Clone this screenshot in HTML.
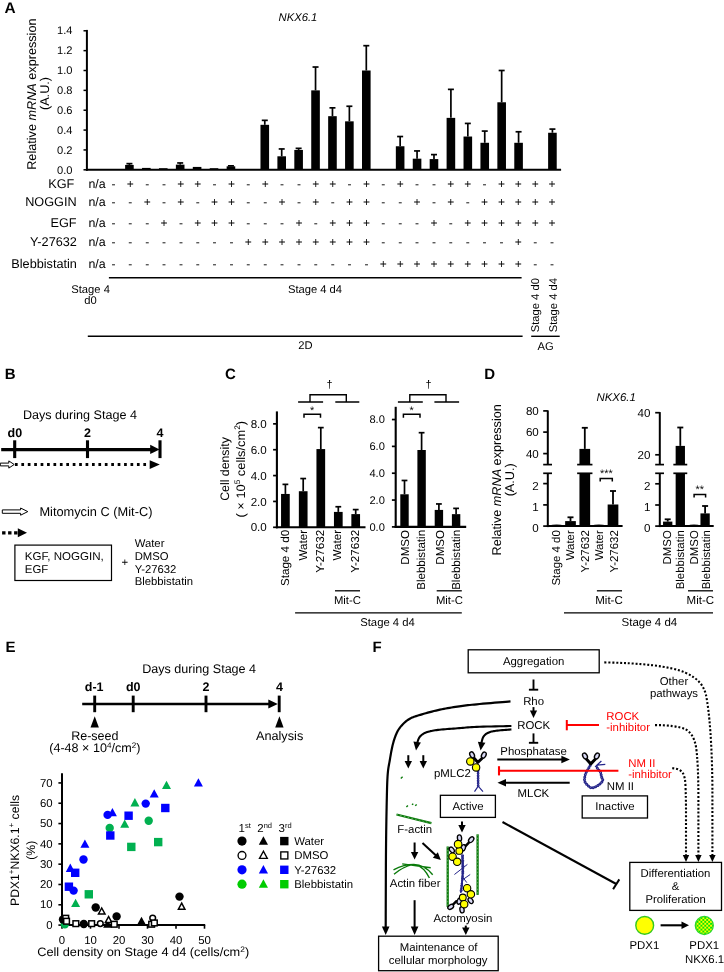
<!DOCTYPE html>
<html><head><meta charset="utf-8"><title>Figure</title>
<style>
html,body{margin:0;padding:0;background:#fff;}
body{width:724px;height:972px;overflow:hidden;font-family:"Liberation Sans",sans-serif;}
svg{display:block;font-family:"Liberation Sans",sans-serif;will-change:transform;opacity:0.9999;-webkit-font-smoothing:antialiased;text-rendering:geometricPrecision;}
</style></head><body>
<svg width="724" height="972" viewBox="0 0 724 972">
<rect width="724" height="972" fill="#fff"/>
<g id="panelA">
<text x="4.50" y="13.40" font-size="15.4" font-weight="bold">A</text>
<text x="278.50" y="21.20" font-size="11.2" textLength="38.80" lengthAdjust="spacingAndGlyphs" font-style="italic">NKX6.1</text>
<text transform="translate(36.1 169.8) rotate(-90)" font-size="12.7" textLength="151.3" lengthAdjust="spacingAndGlyphs">Relative <tspan font-style="italic">mRNA</tspan> expression</text>
<text transform="translate(48.5 93.5) rotate(-90)" font-size="12.7" text-anchor="middle">(A.U.)</text>
<line x1="86.90" y1="29.90" x2="86.90" y2="170.80" stroke="#000" stroke-width="2" />
<line x1="85.90" y1="169.80" x2="561.10" y2="169.80" stroke="#000" stroke-width="2" />
<line x1="83.50" y1="169.80" x2="86.90" y2="169.80" stroke="#000" stroke-width="1.5" />
<text x="72.50" y="173.50" font-size="11.1" text-anchor="end">0.0</text>
<line x1="83.50" y1="149.94" x2="86.90" y2="149.94" stroke="#000" stroke-width="1.5" />
<text x="72.50" y="153.64" font-size="11.1" text-anchor="end">0.2</text>
<line x1="83.50" y1="130.08" x2="86.90" y2="130.08" stroke="#000" stroke-width="1.5" />
<text x="72.50" y="133.78" font-size="11.1" text-anchor="end">0.4</text>
<line x1="83.50" y1="110.22" x2="86.90" y2="110.22" stroke="#000" stroke-width="1.5" />
<text x="72.50" y="113.92" font-size="11.1" text-anchor="end">0.6</text>
<line x1="83.50" y1="90.36" x2="86.90" y2="90.36" stroke="#000" stroke-width="1.5" />
<text x="72.50" y="94.06" font-size="11.1" text-anchor="end">0.8</text>
<line x1="83.50" y1="70.50" x2="86.90" y2="70.50" stroke="#000" stroke-width="1.5" />
<text x="72.50" y="74.20" font-size="11.1" text-anchor="end">1.0</text>
<line x1="83.50" y1="50.64" x2="86.90" y2="50.64" stroke="#000" stroke-width="1.5" />
<text x="72.50" y="54.34" font-size="11.1" text-anchor="end">1.2</text>
<line x1="83.50" y1="30.78" x2="86.90" y2="30.78" stroke="#000" stroke-width="1.5" />
<text x="72.50" y="34.48" font-size="11.1" text-anchor="end">1.4</text>
<rect x="125.12" y="164.93" width="8.60" height="4.87" fill="#000"/>
<line x1="129.42" y1="163.64" x2="129.42" y2="164.93" stroke="#000" stroke-width="1.7" />
<line x1="126.42" y1="163.64" x2="132.42" y2="163.64" stroke="#000" stroke-width="1.7" />
<rect x="142.04" y="167.91" width="8.60" height="1.89" fill="#000"/>
<rect x="158.96" y="168.21" width="8.60" height="1.59" fill="#000"/>
<rect x="175.88" y="164.64" width="8.60" height="5.16" fill="#000"/>
<line x1="180.18" y1="162.95" x2="180.18" y2="164.64" stroke="#000" stroke-width="1.7" />
<line x1="177.18" y1="162.95" x2="183.18" y2="162.95" stroke="#000" stroke-width="1.7" />
<rect x="192.80" y="166.92" width="8.60" height="2.88" fill="#000"/>
<rect x="209.72" y="168.21" width="8.60" height="1.59" fill="#000"/>
<rect x="226.64" y="166.32" width="8.60" height="3.48" fill="#000"/>
<line x1="230.94" y1="165.83" x2="230.94" y2="166.32" stroke="#000" stroke-width="1.7" />
<line x1="227.94" y1="165.83" x2="233.94" y2="165.83" stroke="#000" stroke-width="1.7" />
<rect x="260.48" y="124.82" width="8.60" height="44.98" fill="#000"/>
<line x1="264.78" y1="120.35" x2="264.78" y2="124.82" stroke="#000" stroke-width="1.7" />
<line x1="261.78" y1="120.35" x2="267.78" y2="120.35" stroke="#000" stroke-width="1.7" />
<rect x="277.40" y="156.30" width="8.60" height="13.50" fill="#000"/>
<line x1="281.70" y1="148.95" x2="281.70" y2="156.30" stroke="#000" stroke-width="1.7" />
<line x1="278.70" y1="148.95" x2="284.70" y2="148.95" stroke="#000" stroke-width="1.7" />
<rect x="294.32" y="149.94" width="8.60" height="19.86" fill="#000"/>
<line x1="298.62" y1="148.35" x2="298.62" y2="149.94" stroke="#000" stroke-width="1.7" />
<line x1="295.62" y1="148.35" x2="301.62" y2="148.35" stroke="#000" stroke-width="1.7" />
<rect x="311.24" y="90.36" width="8.60" height="79.44" fill="#000"/>
<line x1="315.54" y1="67.02" x2="315.54" y2="90.36" stroke="#000" stroke-width="1.7" />
<line x1="312.54" y1="67.02" x2="318.54" y2="67.02" stroke="#000" stroke-width="1.7" />
<rect x="328.16" y="116.18" width="8.60" height="53.62" fill="#000"/>
<line x1="332.46" y1="107.84" x2="332.46" y2="116.18" stroke="#000" stroke-width="1.7" />
<line x1="329.46" y1="107.84" x2="335.46" y2="107.84" stroke="#000" stroke-width="1.7" />
<rect x="345.08" y="121.34" width="8.60" height="48.46" fill="#000"/>
<line x1="349.38" y1="106.25" x2="349.38" y2="121.34" stroke="#000" stroke-width="1.7" />
<line x1="346.38" y1="106.25" x2="352.38" y2="106.25" stroke="#000" stroke-width="1.7" />
<rect x="362.00" y="70.50" width="8.60" height="99.30" fill="#000"/>
<line x1="366.30" y1="45.68" x2="366.30" y2="70.50" stroke="#000" stroke-width="1.7" />
<line x1="363.30" y1="45.68" x2="369.30" y2="45.68" stroke="#000" stroke-width="1.7" />
<rect x="395.84" y="146.27" width="8.60" height="23.53" fill="#000"/>
<line x1="400.14" y1="136.53" x2="400.14" y2="146.27" stroke="#000" stroke-width="1.7" />
<line x1="397.14" y1="136.53" x2="403.14" y2="136.53" stroke="#000" stroke-width="1.7" />
<rect x="412.76" y="158.68" width="8.60" height="11.12" fill="#000"/>
<line x1="417.06" y1="150.93" x2="417.06" y2="158.68" stroke="#000" stroke-width="1.7" />
<line x1="414.06" y1="150.93" x2="420.06" y2="150.93" stroke="#000" stroke-width="1.7" />
<rect x="429.68" y="159.08" width="8.60" height="10.72" fill="#000"/>
<line x1="433.98" y1="154.61" x2="433.98" y2="159.08" stroke="#000" stroke-width="1.7" />
<line x1="430.98" y1="154.61" x2="436.98" y2="154.61" stroke="#000" stroke-width="1.7" />
<rect x="446.60" y="117.87" width="8.60" height="51.93" fill="#000"/>
<line x1="450.90" y1="89.37" x2="450.90" y2="117.87" stroke="#000" stroke-width="1.7" />
<line x1="447.90" y1="89.37" x2="453.90" y2="89.37" stroke="#000" stroke-width="1.7" />
<rect x="463.52" y="136.53" width="8.60" height="33.27" fill="#000"/>
<line x1="467.82" y1="123.43" x2="467.82" y2="136.53" stroke="#000" stroke-width="1.7" />
<line x1="464.82" y1="123.43" x2="470.82" y2="123.43" stroke="#000" stroke-width="1.7" />
<rect x="480.44" y="142.79" width="8.60" height="27.01" fill="#000"/>
<line x1="484.74" y1="131.07" x2="484.74" y2="142.79" stroke="#000" stroke-width="1.7" />
<line x1="481.74" y1="131.07" x2="487.74" y2="131.07" stroke="#000" stroke-width="1.7" />
<rect x="497.36" y="102.28" width="8.60" height="67.52" fill="#000"/>
<line x1="501.66" y1="70.50" x2="501.66" y2="102.28" stroke="#000" stroke-width="1.7" />
<line x1="498.66" y1="70.50" x2="504.66" y2="70.50" stroke="#000" stroke-width="1.7" />
<rect x="514.28" y="142.79" width="8.60" height="27.01" fill="#000"/>
<line x1="518.58" y1="131.77" x2="518.58" y2="142.79" stroke="#000" stroke-width="1.7" />
<line x1="515.58" y1="131.77" x2="521.58" y2="131.77" stroke="#000" stroke-width="1.7" />
<rect x="548.12" y="132.76" width="8.60" height="37.04" fill="#000"/>
<line x1="552.42" y1="129.09" x2="552.42" y2="132.76" stroke="#000" stroke-width="1.7" />
<line x1="549.42" y1="129.09" x2="555.42" y2="129.09" stroke="#000" stroke-width="1.7" />
<text x="74.30" y="187.80" font-size="12.7" text-anchor="end">KGF</text>
<text x="97.00" y="187.80" font-size="12.4" text-anchor="middle">n/a</text>
<text x="113.40" y="187.80" font-size="12.0" text-anchor="middle">-</text>
<text x="130.27" y="187.80" font-size="12.0" text-anchor="middle">+</text>
<text x="147.14" y="187.80" font-size="12.0" text-anchor="middle">-</text>
<text x="164.01" y="187.80" font-size="12.0" text-anchor="middle">-</text>
<text x="180.88" y="187.80" font-size="12.0" text-anchor="middle">+</text>
<text x="197.75" y="187.80" font-size="12.0" text-anchor="middle">+</text>
<text x="214.62" y="187.80" font-size="12.0" text-anchor="middle">-</text>
<text x="231.49" y="187.80" font-size="12.0" text-anchor="middle">+</text>
<text x="248.36" y="187.80" font-size="12.0" text-anchor="middle">-</text>
<text x="265.23" y="187.80" font-size="12.0" text-anchor="middle">+</text>
<text x="282.10" y="187.80" font-size="12.0" text-anchor="middle">-</text>
<text x="298.97" y="187.80" font-size="12.0" text-anchor="middle">-</text>
<text x="315.84" y="187.80" font-size="12.0" text-anchor="middle">+</text>
<text x="332.71" y="187.80" font-size="12.0" text-anchor="middle">+</text>
<text x="349.58" y="187.80" font-size="12.0" text-anchor="middle">-</text>
<text x="366.45" y="187.80" font-size="12.0" text-anchor="middle">+</text>
<text x="383.32" y="187.80" font-size="12.0" text-anchor="middle">-</text>
<text x="400.19" y="187.80" font-size="12.0" text-anchor="middle">+</text>
<text x="417.06" y="187.80" font-size="12.0" text-anchor="middle">-</text>
<text x="433.93" y="187.80" font-size="12.0" text-anchor="middle">-</text>
<text x="450.80" y="187.80" font-size="12.0" text-anchor="middle">+</text>
<text x="467.67" y="187.80" font-size="12.0" text-anchor="middle">+</text>
<text x="484.54" y="187.80" font-size="12.0" text-anchor="middle">-</text>
<text x="501.41" y="187.80" font-size="12.0" text-anchor="middle">+</text>
<text x="518.28" y="187.80" font-size="12.0" text-anchor="middle">+</text>
<text x="535.15" y="187.80" font-size="12.0" text-anchor="middle">+</text>
<text x="552.02" y="187.80" font-size="12.0" text-anchor="middle">+</text>
<text x="76.60" y="205.60" font-size="12.7" text-anchor="end">NOGGIN</text>
<text x="97.00" y="205.60" font-size="12.4" text-anchor="middle">n/a</text>
<text x="113.40" y="205.60" font-size="12.0" text-anchor="middle">-</text>
<text x="130.27" y="205.60" font-size="12.0" text-anchor="middle">-</text>
<text x="147.14" y="205.60" font-size="12.0" text-anchor="middle">+</text>
<text x="164.01" y="205.60" font-size="12.0" text-anchor="middle">-</text>
<text x="180.88" y="205.60" font-size="12.0" text-anchor="middle">+</text>
<text x="197.75" y="205.60" font-size="12.0" text-anchor="middle">-</text>
<text x="214.62" y="205.60" font-size="12.0" text-anchor="middle">+</text>
<text x="231.49" y="205.60" font-size="12.0" text-anchor="middle">+</text>
<text x="248.36" y="205.60" font-size="12.0" text-anchor="middle">-</text>
<text x="265.23" y="205.60" font-size="12.0" text-anchor="middle">-</text>
<text x="282.10" y="205.60" font-size="12.0" text-anchor="middle">+</text>
<text x="298.97" y="205.60" font-size="12.0" text-anchor="middle">-</text>
<text x="315.84" y="205.60" font-size="12.0" text-anchor="middle">+</text>
<text x="332.71" y="205.60" font-size="12.0" text-anchor="middle">-</text>
<text x="349.58" y="205.60" font-size="12.0" text-anchor="middle">+</text>
<text x="366.45" y="205.60" font-size="12.0" text-anchor="middle">+</text>
<text x="383.32" y="205.60" font-size="12.0" text-anchor="middle">-</text>
<text x="400.19" y="205.60" font-size="12.0" text-anchor="middle">-</text>
<text x="417.06" y="205.60" font-size="12.0" text-anchor="middle">+</text>
<text x="433.93" y="205.60" font-size="12.0" text-anchor="middle">-</text>
<text x="450.80" y="205.60" font-size="12.0" text-anchor="middle">+</text>
<text x="467.67" y="205.60" font-size="12.0" text-anchor="middle">-</text>
<text x="484.54" y="205.60" font-size="12.0" text-anchor="middle">+</text>
<text x="501.41" y="205.60" font-size="12.0" text-anchor="middle">+</text>
<text x="518.28" y="205.60" font-size="12.0" text-anchor="middle">+</text>
<text x="535.15" y="205.60" font-size="12.0" text-anchor="middle">+</text>
<text x="552.02" y="205.60" font-size="12.0" text-anchor="middle">+</text>
<text x="76.60" y="227.30" font-size="12.7" text-anchor="end">EGF</text>
<text x="97.00" y="227.30" font-size="12.4" text-anchor="middle">n/a</text>
<text x="113.40" y="227.30" font-size="12.0" text-anchor="middle">-</text>
<text x="130.27" y="227.30" font-size="12.0" text-anchor="middle">-</text>
<text x="147.14" y="227.30" font-size="12.0" text-anchor="middle">-</text>
<text x="164.01" y="227.30" font-size="12.0" text-anchor="middle">+</text>
<text x="180.88" y="227.30" font-size="12.0" text-anchor="middle">-</text>
<text x="197.75" y="227.30" font-size="12.0" text-anchor="middle">+</text>
<text x="214.62" y="227.30" font-size="12.0" text-anchor="middle">+</text>
<text x="231.49" y="227.30" font-size="12.0" text-anchor="middle">+</text>
<text x="248.36" y="227.30" font-size="12.0" text-anchor="middle">-</text>
<text x="265.23" y="227.30" font-size="12.0" text-anchor="middle">-</text>
<text x="282.10" y="227.30" font-size="12.0" text-anchor="middle">-</text>
<text x="298.97" y="227.30" font-size="12.0" text-anchor="middle">+</text>
<text x="315.84" y="227.30" font-size="12.0" text-anchor="middle">-</text>
<text x="332.71" y="227.30" font-size="12.0" text-anchor="middle">+</text>
<text x="349.58" y="227.30" font-size="12.0" text-anchor="middle">+</text>
<text x="366.45" y="227.30" font-size="12.0" text-anchor="middle">+</text>
<text x="383.32" y="227.30" font-size="12.0" text-anchor="middle">-</text>
<text x="400.19" y="227.30" font-size="12.0" text-anchor="middle">-</text>
<text x="417.06" y="227.30" font-size="12.0" text-anchor="middle">-</text>
<text x="433.93" y="227.30" font-size="12.0" text-anchor="middle">+</text>
<text x="450.80" y="227.30" font-size="12.0" text-anchor="middle">-</text>
<text x="467.67" y="227.30" font-size="12.0" text-anchor="middle">+</text>
<text x="484.54" y="227.30" font-size="12.0" text-anchor="middle">+</text>
<text x="501.41" y="227.30" font-size="12.0" text-anchor="middle">+</text>
<text x="518.28" y="227.30" font-size="12.0" text-anchor="middle">+</text>
<text x="535.15" y="227.30" font-size="12.0" text-anchor="middle">+</text>
<text x="552.02" y="227.30" font-size="12.0" text-anchor="middle">+</text>
<text x="76.90" y="245.70" font-size="12.7" text-anchor="end">Y-27632</text>
<text x="97.00" y="245.70" font-size="12.4" text-anchor="middle">n/a</text>
<text x="113.40" y="245.70" font-size="12.0" text-anchor="middle">-</text>
<text x="130.27" y="245.70" font-size="12.0" text-anchor="middle">-</text>
<text x="147.14" y="245.70" font-size="12.0" text-anchor="middle">-</text>
<text x="164.01" y="245.70" font-size="12.0" text-anchor="middle">-</text>
<text x="180.88" y="245.70" font-size="12.0" text-anchor="middle">-</text>
<text x="197.75" y="245.70" font-size="12.0" text-anchor="middle">-</text>
<text x="214.62" y="245.70" font-size="12.0" text-anchor="middle">-</text>
<text x="231.49" y="245.70" font-size="12.0" text-anchor="middle">-</text>
<text x="248.36" y="245.70" font-size="12.0" text-anchor="middle">+</text>
<text x="265.23" y="245.70" font-size="12.0" text-anchor="middle">+</text>
<text x="282.10" y="245.70" font-size="12.0" text-anchor="middle">+</text>
<text x="298.97" y="245.70" font-size="12.0" text-anchor="middle">+</text>
<text x="315.84" y="245.70" font-size="12.0" text-anchor="middle">+</text>
<text x="332.71" y="245.70" font-size="12.0" text-anchor="middle">+</text>
<text x="349.58" y="245.70" font-size="12.0" text-anchor="middle">+</text>
<text x="366.45" y="245.70" font-size="12.0" text-anchor="middle">+</text>
<text x="383.32" y="245.70" font-size="12.0" text-anchor="middle">-</text>
<text x="400.19" y="245.70" font-size="12.0" text-anchor="middle">-</text>
<text x="417.06" y="245.70" font-size="12.0" text-anchor="middle">-</text>
<text x="433.93" y="245.70" font-size="12.0" text-anchor="middle">-</text>
<text x="450.80" y="245.70" font-size="12.0" text-anchor="middle">-</text>
<text x="467.67" y="245.70" font-size="12.0" text-anchor="middle">-</text>
<text x="484.54" y="245.70" font-size="12.0" text-anchor="middle">-</text>
<text x="501.41" y="245.70" font-size="12.0" text-anchor="middle">-</text>
<text x="518.28" y="245.70" font-size="12.0" text-anchor="middle">+</text>
<text x="535.15" y="245.70" font-size="12.0" text-anchor="middle">-</text>
<text x="552.02" y="245.70" font-size="12.0" text-anchor="middle">-</text>
<text x="76.90" y="267.50" font-size="12.7" text-anchor="end">Blebbistatin</text>
<text x="97.00" y="267.50" font-size="12.4" text-anchor="middle">n/a</text>
<text x="113.40" y="267.50" font-size="12.0" text-anchor="middle">-</text>
<text x="130.27" y="267.50" font-size="12.0" text-anchor="middle">-</text>
<text x="147.14" y="267.50" font-size="12.0" text-anchor="middle">-</text>
<text x="164.01" y="267.50" font-size="12.0" text-anchor="middle">-</text>
<text x="180.88" y="267.50" font-size="12.0" text-anchor="middle">-</text>
<text x="197.75" y="267.50" font-size="12.0" text-anchor="middle">-</text>
<text x="214.62" y="267.50" font-size="12.0" text-anchor="middle">-</text>
<text x="231.49" y="267.50" font-size="12.0" text-anchor="middle">-</text>
<text x="248.36" y="267.50" font-size="12.0" text-anchor="middle">-</text>
<text x="265.23" y="267.50" font-size="12.0" text-anchor="middle">-</text>
<text x="282.10" y="267.50" font-size="12.0" text-anchor="middle">-</text>
<text x="298.97" y="267.50" font-size="12.0" text-anchor="middle">-</text>
<text x="315.84" y="267.50" font-size="12.0" text-anchor="middle">-</text>
<text x="332.71" y="267.50" font-size="12.0" text-anchor="middle">-</text>
<text x="349.58" y="267.50" font-size="12.0" text-anchor="middle">-</text>
<text x="366.45" y="267.50" font-size="12.0" text-anchor="middle">-</text>
<text x="383.32" y="267.50" font-size="12.0" text-anchor="middle">+</text>
<text x="400.19" y="267.50" font-size="12.0" text-anchor="middle">+</text>
<text x="417.06" y="267.50" font-size="12.0" text-anchor="middle">+</text>
<text x="433.93" y="267.50" font-size="12.0" text-anchor="middle">+</text>
<text x="450.80" y="267.50" font-size="12.0" text-anchor="middle">+</text>
<text x="467.67" y="267.50" font-size="12.0" text-anchor="middle">+</text>
<text x="484.54" y="267.50" font-size="12.0" text-anchor="middle">+</text>
<text x="501.41" y="267.50" font-size="12.0" text-anchor="middle">+</text>
<text x="518.28" y="267.50" font-size="12.0" text-anchor="middle">+</text>
<text x="535.15" y="267.50" font-size="12.0" text-anchor="middle">-</text>
<text x="552.02" y="267.50" font-size="12.0" text-anchor="middle">-</text>
<line x1="108.90" y1="277.70" x2="521.60" y2="277.70" stroke="#000" stroke-width="1.4" />
<text x="90.60" y="292.60" font-size="11.2" text-anchor="middle">Stage 4</text>
<text x="90.60" y="304.20" font-size="11.2" text-anchor="middle">d0</text>
<text x="315.00" y="292.60" font-size="11.2" text-anchor="middle">Stage 4 d4</text>
<line x1="87.80" y1="336.30" x2="522.60" y2="336.30" stroke="#000" stroke-width="1.4" />
<line x1="531.20" y1="336.30" x2="559.70" y2="336.30" stroke="#000" stroke-width="1.4" />
<text x="538.60" y="332.20" font-size="11.2" textLength="54.10" lengthAdjust="spacingAndGlyphs" transform="rotate(-90 538.60 332.20)">Stage 4 d0</text>
<text x="556.80" y="332.20" font-size="11.2" textLength="54.10" lengthAdjust="spacingAndGlyphs" transform="rotate(-90 556.80 332.20)">Stage 4 d4</text>
<text x="305.50" y="349.30" font-size="11.2" text-anchor="middle">2D</text>
<text x="545.60" y="349.60" font-size="11.2" text-anchor="middle">AG</text>
</g>
<g id="panelB">
<text x="4.80" y="379.40" font-size="15.0" font-weight="bold">B</text>
<text x="22.90" y="419.40" font-size="12.5" textLength="114.10" lengthAdjust="spacingAndGlyphs">Days during Stage 4</text>
<text x="7.60" y="436.50" font-size="12.5" font-weight="bold">d0</text>
<text x="87.40" y="436.50" font-size="12.5" text-anchor="middle" font-weight="bold">2</text>
<text x="160.00" y="436.50" font-size="12.5" text-anchor="middle" font-weight="bold">4</text>
<line x1="1.20" y1="449.60" x2="152.00" y2="449.60" stroke="#000" stroke-width="3.2" />
<polygon points="159.60,449.40 150.20,454.10 150.20,444.70" fill="#000"/>
<line x1="14.70" y1="440.30" x2="14.70" y2="458.10" stroke="#000" stroke-width="3.1" />
<line x1="87.50" y1="440.30" x2="87.50" y2="458.10" stroke="#000" stroke-width="3.1" />
<line x1="160.00" y1="440.30" x2="160.00" y2="458.10" stroke="#000" stroke-width="3.1" />
<line x1="14.95" y1="464.60" x2="146.20" y2="464.60" stroke="#000" stroke-width="3.0" stroke-dasharray="2.7 3.72"/>
<polygon points="159.80,464.60 149.70,469.00 149.70,460.20" fill="#000"/>
<path d="M0.3 463.1 H8.8 V460.9 L14.2 464.5 L8.8 468.1 V465.9 H0.3 Z" fill="#fff" stroke="#000" stroke-width="1.0" />
<path d="M2.3 509.9 H20.6 V508.0 L27.8 511.6 L20.6 515.2 V513.3 H2.3 Z" fill="#fff" stroke="#000" stroke-width="1.0" />
<text x="39.40" y="516.20" font-size="12.8" textLength="113.00" lengthAdjust="spacingAndGlyphs">Mitomycin C (Mit-C)</text>
<line x1="2.10" y1="532.80" x2="18.50" y2="532.80" stroke="#000" stroke-width="3.3" stroke-dasharray="3.4 2.6"/>
<polygon points="27.00,532.80 17.80,537.30 17.80,528.30" fill="#000"/>
<rect x="14.90" y="545.10" width="96.60" height="35.40" fill="none" stroke="#000" stroke-width="1.2"/>
<text x="24.80" y="560.00" font-size="11.4" textLength="79.00" lengthAdjust="spacingAndGlyphs">KGF, NOGGIN,</text>
<text x="24.80" y="572.80" font-size="11.4">EGF</text>
<text x="124.90" y="566.00" font-size="11.4" text-anchor="middle">+</text>
<text x="134.70" y="546.60" font-size="11.3">Water</text>
<text x="134.70" y="559.80" font-size="11.3">DMSO</text>
<text x="134.70" y="572.70" font-size="11.3">Y-27632</text>
<text x="134.70" y="585.40" font-size="11.3" textLength="58.40" lengthAdjust="spacingAndGlyphs">Blebbistatin</text>
</g>
<g id="panelC">
<text x="225.10" y="379.40" font-size="15.0" font-weight="bold">C</text>
<text transform="translate(229.4 469) rotate(-90)" font-size="12.3" text-anchor="middle" textLength="63.6" lengthAdjust="spacingAndGlyphs">Cell density</text>
<text transform="translate(244.8 469.2) rotate(-90)" font-size="12.3" text-anchor="middle" textLength="96.5" lengthAdjust="spacingAndGlyphs">( × 10<tspan font-size="8" dy="-4.5">5</tspan><tspan dy="4.5"> cells/cm</tspan><tspan font-size="8" dy="-4.5">2</tspan><tspan dy="4.5">)</tspan></text>
<line x1="276.90" y1="411.40" x2="276.90" y2="528.30" stroke="#000" stroke-width="2.1" />
<line x1="275.90" y1="527.30" x2="365.50" y2="527.30" stroke="#000" stroke-width="2.1" />
<line x1="273.10" y1="527.30" x2="276.90" y2="527.30" stroke="#000" stroke-width="1.7" />
<text x="266.80" y="531.40" font-size="11.6" text-anchor="end">0.0</text>
<line x1="273.10" y1="501.44" x2="276.90" y2="501.44" stroke="#000" stroke-width="1.7" />
<text x="266.80" y="505.54" font-size="11.6" text-anchor="end">2.0</text>
<line x1="273.10" y1="475.58" x2="276.90" y2="475.58" stroke="#000" stroke-width="1.7" />
<text x="266.80" y="479.68" font-size="11.6" text-anchor="end">4.0</text>
<line x1="273.10" y1="449.72" x2="276.90" y2="449.72" stroke="#000" stroke-width="1.7" />
<text x="266.80" y="453.82" font-size="11.6" text-anchor="end">6.0</text>
<line x1="273.10" y1="423.86" x2="276.90" y2="423.86" stroke="#000" stroke-width="1.7" />
<text x="266.80" y="427.96" font-size="11.6" text-anchor="end">8.0</text>
<rect x="281.05" y="493.94" width="8.70" height="33.36" fill="#000"/>
<line x1="285.40" y1="484.37" x2="285.40" y2="493.94" stroke="#000" stroke-width="1.7" />
<line x1="282.50" y1="484.37" x2="288.30" y2="484.37" stroke="#000" stroke-width="1.7" />
<rect x="298.85" y="491.23" width="8.70" height="36.07" fill="#000"/>
<line x1="303.20" y1="478.55" x2="303.20" y2="491.23" stroke="#000" stroke-width="1.7" />
<line x1="300.30" y1="478.55" x2="306.10" y2="478.55" stroke="#000" stroke-width="1.7" />
<rect x="316.45" y="449.07" width="8.70" height="78.23" fill="#000"/>
<line x1="320.80" y1="427.61" x2="320.80" y2="449.07" stroke="#000" stroke-width="1.7" />
<line x1="317.90" y1="427.61" x2="323.70" y2="427.61" stroke="#000" stroke-width="1.7" />
<rect x="333.95" y="511.91" width="8.70" height="15.39" fill="#000"/>
<line x1="338.30" y1="506.74" x2="338.30" y2="511.91" stroke="#000" stroke-width="1.7" />
<line x1="335.40" y1="506.74" x2="341.20" y2="506.74" stroke="#000" stroke-width="1.7" />
<rect x="351.35" y="514.11" width="8.70" height="13.19" fill="#000"/>
<line x1="355.70" y1="509.59" x2="355.70" y2="514.11" stroke="#000" stroke-width="1.7" />
<line x1="352.80" y1="509.59" x2="358.60" y2="509.59" stroke="#000" stroke-width="1.7" />
<text x="289.40" y="529.90" font-size="11.6" text-anchor="end" transform="rotate(-90 289.40 529.90)">Stage 4 d0</text>
<text x="306.80" y="529.90" font-size="11.6" text-anchor="end" transform="rotate(-90 306.80 529.90)">Water</text>
<text x="324.40" y="529.90" font-size="11.6" text-anchor="end" transform="rotate(-90 324.40 529.90)">Y-27632</text>
<text x="341.30" y="529.90" font-size="11.6" text-anchor="end" transform="rotate(-90 341.30 529.90)">Water</text>
<text x="359.40" y="529.90" font-size="11.6" text-anchor="end" transform="rotate(-90 359.40 529.90)">Y-27632</text>
<line x1="395.70" y1="406.80" x2="395.70" y2="527.90" stroke="#000" stroke-width="2.1" />
<line x1="394.70" y1="526.90" x2="466.20" y2="526.90" stroke="#000" stroke-width="2.1" />
<line x1="391.90" y1="526.90" x2="395.70" y2="526.90" stroke="#000" stroke-width="1.7" />
<text x="384.80" y="530.82" font-size="11.1" text-anchor="end">0.0</text>
<line x1="391.90" y1="500.06" x2="395.70" y2="500.06" stroke="#000" stroke-width="1.7" />
<text x="384.80" y="503.98" font-size="11.1" text-anchor="end">2.0</text>
<line x1="391.90" y1="473.22" x2="395.70" y2="473.22" stroke="#000" stroke-width="1.7" />
<text x="384.80" y="477.14" font-size="11.1" text-anchor="end">4.0</text>
<line x1="391.90" y1="446.38" x2="395.70" y2="446.38" stroke="#000" stroke-width="1.7" />
<text x="384.80" y="450.30" font-size="11.1" text-anchor="end">6.0</text>
<line x1="391.90" y1="419.54" x2="395.70" y2="419.54" stroke="#000" stroke-width="1.7" />
<text x="384.80" y="423.46" font-size="11.1" text-anchor="end">8.0</text>
<rect x="400.30" y="494.29" width="8.40" height="32.61" fill="#000"/>
<line x1="404.50" y1="480.47" x2="404.50" y2="494.29" stroke="#000" stroke-width="1.7" />
<line x1="401.60" y1="480.47" x2="407.40" y2="480.47" stroke="#000" stroke-width="1.7" />
<rect x="417.40" y="450.00" width="8.40" height="76.90" fill="#000"/>
<line x1="421.60" y1="432.69" x2="421.60" y2="450.00" stroke="#000" stroke-width="1.7" />
<line x1="418.70" y1="432.69" x2="424.50" y2="432.69" stroke="#000" stroke-width="1.7" />
<rect x="434.70" y="509.92" width="8.40" height="16.98" fill="#000"/>
<line x1="438.90" y1="503.95" x2="438.90" y2="509.92" stroke="#000" stroke-width="1.7" />
<line x1="436.00" y1="503.95" x2="441.80" y2="503.95" stroke="#000" stroke-width="1.7" />
<rect x="451.90" y="514.15" width="8.40" height="12.75" fill="#000"/>
<line x1="456.10" y1="508.38" x2="456.10" y2="514.15" stroke="#000" stroke-width="1.7" />
<line x1="453.20" y1="508.38" x2="459.00" y2="508.38" stroke="#000" stroke-width="1.7" />
<text x="409.00" y="529.90" font-size="11.6" text-anchor="end" transform="rotate(-90 409.00 529.90)">DMSO</text>
<text x="425.30" y="529.90" font-size="11.6" text-anchor="end" transform="rotate(-90 425.30 529.90)">Blebbistatin</text>
<text x="443.70" y="529.90" font-size="11.6" text-anchor="end" transform="rotate(-90 443.70 529.90)">DMSO</text>
<text x="460.10" y="529.90" font-size="11.6" text-anchor="end" transform="rotate(-90 460.10 529.90)">Blebbistatin</text>
<path d="M298.1 402 H323.1 M310.0 402 V394.7 H346.3 V402 M335.3 402 H359.3" fill="none" stroke="#000" stroke-width="1.4" />
<path d="M397.9 402 H422.8 M409.8 402 V394.7 H446.0 V402 M434.4 402 H459.1" fill="none" stroke="#000" stroke-width="1.4" />
<text x="329.50" y="388.30" font-size="11" text-anchor="middle">†</text>
<text x="428.60" y="388.30" font-size="11" text-anchor="middle">†</text>
<path d="M304.0 417.8 V414.2 H320.5 V417.8" fill="none" stroke="#000" stroke-width="1.5" />
<path d="M403.4 417.8 V414.2 H420.0 V417.8" fill="none" stroke="#000" stroke-width="1.5" />
<text x="312.20" y="413.90" font-size="10.8" text-anchor="middle">*</text>
<text x="411.60" y="413.90" font-size="10.8" text-anchor="middle">*</text>
<line x1="335.00" y1="590.80" x2="360.00" y2="590.80" stroke="#000" stroke-width="1.3" />
<line x1="436.70" y1="590.80" x2="461.80" y2="590.80" stroke="#000" stroke-width="1.3" />
<text x="347.40" y="603.90" font-size="11.3" text-anchor="middle">Mit-C</text>
<text x="449.40" y="603.90" font-size="11.3" text-anchor="middle">Mit-C</text>
<line x1="295.10" y1="612.80" x2="461.80" y2="612.80" stroke="#000" stroke-width="1.3" />
<text x="387.50" y="625.60" font-size="11.3" text-anchor="middle">Stage 4 d4</text>
</g>
<g id="panelD">
<text x="484.30" y="378.80" font-size="15.0" font-weight="bold">D</text>
<text x="596.50" y="400.70" font-size="11.3" textLength="39.30" lengthAdjust="spacingAndGlyphs" font-style="italic">NKX6.1</text>
<text transform="translate(500.9 479.8) rotate(-90)" font-size="12.7" text-anchor="middle" textLength="151.3" lengthAdjust="spacingAndGlyphs">Relative <tspan font-style="italic">mRNA</tspan> expression</text>
<text transform="translate(513.6 479.8) rotate(-90)" font-size="12.7" text-anchor="middle">(A.U.)</text>
<line x1="547.80" y1="410.40" x2="547.80" y2="464.60" stroke="#000" stroke-width="2.0" />
<line x1="547.80" y1="473.30" x2="547.80" y2="527.10" stroke="#000" stroke-width="2.0" />
<line x1="546.80" y1="526.10" x2="622.60" y2="526.10" stroke="#000" stroke-width="2.0" />
<line x1="543.20" y1="464.60" x2="552.00" y2="464.60" stroke="#000" stroke-width="1.7" />
<line x1="543.20" y1="473.30" x2="552.00" y2="473.30" stroke="#000" stroke-width="1.7" />
<line x1="543.20" y1="410.90" x2="547.80" y2="410.90" stroke="#000" stroke-width="1.7" />
<text x="538.80" y="415.20" font-size="11.6" text-anchor="end">80</text>
<line x1="543.20" y1="432.10" x2="547.80" y2="432.10" stroke="#000" stroke-width="1.7" />
<text x="538.80" y="436.40" font-size="11.6" text-anchor="end">60</text>
<line x1="543.20" y1="453.60" x2="547.80" y2="453.60" stroke="#000" stroke-width="1.7" />
<text x="538.80" y="457.90" font-size="11.6" text-anchor="end">40</text>
<line x1="543.20" y1="483.60" x2="547.80" y2="483.60" stroke="#000" stroke-width="1.7" />
<text x="538.80" y="489.80" font-size="11.6" text-anchor="end">2</text>
<line x1="543.20" y1="504.90" x2="547.80" y2="504.90" stroke="#000" stroke-width="1.7" />
<text x="538.80" y="511.10" font-size="11.6" text-anchor="end">1</text>
<line x1="543.20" y1="526.10" x2="547.80" y2="526.10" stroke="#000" stroke-width="1.7" />
<text x="538.80" y="532.30" font-size="11.6" text-anchor="end">0</text>
<ellipse cx="556.6" cy="525.5" rx="5.75" ry="1.1" fill="#000"/>
<rect x="565.15" y="521.10" width="10.70" height="5.00" fill="#000"/>
<line x1="570.50" y1="517.30" x2="570.50" y2="521.10" stroke="#000" stroke-width="1.8" />
<line x1="567.50" y1="517.30" x2="573.50" y2="517.30" stroke="#000" stroke-width="1.8" />
<rect x="579.45" y="448.90" width="10.70" height="15.70" fill="#000"/>
<rect x="579.45" y="473.30" width="10.70" height="52.80" fill="#000"/>
<line x1="577.15" y1="464.60" x2="592.45" y2="464.60" stroke="#000" stroke-width="1.7" />
<line x1="577.15" y1="473.30" x2="592.45" y2="473.30" stroke="#000" stroke-width="1.7" />
<line x1="584.80" y1="427.80" x2="584.80" y2="448.90" stroke="#000" stroke-width="1.8" />
<line x1="581.80" y1="427.80" x2="587.80" y2="427.80" stroke="#000" stroke-width="1.8" />
<ellipse cx="598.9" cy="525.5" rx="5.75" ry="1.1" fill="#000"/>
<rect x="607.65" y="504.50" width="10.70" height="21.60" fill="#000"/>
<line x1="613.00" y1="491.00" x2="613.00" y2="504.50" stroke="#000" stroke-width="1.8" />
<line x1="610.00" y1="491.00" x2="616.00" y2="491.00" stroke="#000" stroke-width="1.8" />
<text x="560.50" y="530.20" font-size="11.45" text-anchor="end" transform="rotate(-90 560.50 530.20)">Stage 4 d0</text>
<text x="574.20" y="530.20" font-size="11.45" text-anchor="end" transform="rotate(-90 574.20 530.20)">Water</text>
<text x="588.80" y="530.20" font-size="11.45" text-anchor="end" transform="rotate(-90 588.80 530.20)">Y-27632</text>
<text x="603.00" y="530.20" font-size="11.45" text-anchor="end" transform="rotate(-90 603.00 530.20)">Water</text>
<text x="618.00" y="530.20" font-size="11.45" text-anchor="end" transform="rotate(-90 618.00 530.20)">Y-27632</text>
<line x1="659.80" y1="412.10" x2="659.80" y2="464.60" stroke="#000" stroke-width="2.0" />
<line x1="659.80" y1="473.30" x2="659.80" y2="527.10" stroke="#000" stroke-width="2.0" />
<line x1="658.80" y1="526.10" x2="713.70" y2="526.10" stroke="#000" stroke-width="2.0" />
<line x1="655.20" y1="464.60" x2="664.00" y2="464.60" stroke="#000" stroke-width="1.7" />
<line x1="655.20" y1="473.30" x2="664.00" y2="473.30" stroke="#000" stroke-width="1.7" />
<line x1="655.20" y1="412.70" x2="659.80" y2="412.70" stroke="#000" stroke-width="1.7" />
<text x="650.50" y="417.00" font-size="11.6" text-anchor="end">40</text>
<line x1="655.20" y1="454.80" x2="659.80" y2="454.80" stroke="#000" stroke-width="1.7" />
<text x="650.50" y="459.10" font-size="11.6" text-anchor="end">20</text>
<line x1="655.20" y1="483.80" x2="659.80" y2="483.80" stroke="#000" stroke-width="1.7" />
<text x="650.50" y="490.00" font-size="11.6" text-anchor="end">2</text>
<line x1="655.20" y1="505.00" x2="659.80" y2="505.00" stroke="#000" stroke-width="1.7" />
<text x="650.50" y="511.20" font-size="11.6" text-anchor="end">1</text>
<line x1="655.20" y1="526.10" x2="659.80" y2="526.10" stroke="#000" stroke-width="1.7" />
<text x="650.50" y="532.30" font-size="11.6" text-anchor="end">0</text>
<rect x="663.05" y="521.60" width="9.30" height="4.50" fill="#000"/>
<line x1="667.70" y1="519.30" x2="667.70" y2="521.60" stroke="#000" stroke-width="1.8" />
<line x1="664.70" y1="519.30" x2="670.70" y2="519.30" stroke="#000" stroke-width="1.8" />
<rect x="675.65" y="445.90" width="9.30" height="18.70" fill="#000"/>
<rect x="675.65" y="473.30" width="9.30" height="52.80" fill="#000"/>
<line x1="673.35" y1="464.60" x2="687.25" y2="464.60" stroke="#000" stroke-width="1.7" />
<line x1="673.35" y1="473.30" x2="687.25" y2="473.30" stroke="#000" stroke-width="1.7" />
<line x1="680.30" y1="427.50" x2="680.30" y2="445.90" stroke="#000" stroke-width="1.8" />
<line x1="677.30" y1="427.50" x2="683.30" y2="427.50" stroke="#000" stroke-width="1.8" />
<ellipse cx="694.0" cy="525.5" rx="5.050000000000001" ry="1.1" fill="#000"/>
<rect x="700.45" y="513.40" width="9.30" height="12.70" fill="#000"/>
<line x1="705.10" y1="506.00" x2="705.10" y2="513.40" stroke="#000" stroke-width="1.8" />
<line x1="702.10" y1="506.00" x2="708.10" y2="506.00" stroke="#000" stroke-width="1.8" />
<text x="670.80" y="530.20" font-size="11.45" text-anchor="end" transform="rotate(-90 670.80 530.20)">DMSO</text>
<text x="684.40" y="530.20" font-size="11.45" text-anchor="end" transform="rotate(-90 684.40 530.20)">Blebbistatin</text>
<text x="698.20" y="530.20" font-size="11.45" text-anchor="end" transform="rotate(-90 698.20 530.20)">DMSO</text>
<text x="710.30" y="530.20" font-size="11.45" text-anchor="end" transform="rotate(-90 710.30 530.20)">Blebbistatin</text>
<path d="M600.2 481.5 V478.4 H612.3 V481.5" fill="none" stroke="#000" stroke-width="1.5" />
<text x="606.30" y="477.40" font-size="10.8" text-anchor="middle">***</text>
<path d="M694.1 497.4 V494.5 H705.6 V497.4" fill="none" stroke="#000" stroke-width="1.5" />
<text x="699.80" y="493.40" font-size="10.8" text-anchor="middle">**</text>
<line x1="596.90" y1="590.80" x2="622.00" y2="590.80" stroke="#000" stroke-width="1.3" />
<line x1="688.00" y1="590.80" x2="713.00" y2="590.80" stroke="#000" stroke-width="1.3" />
<text x="609.00" y="603.90" font-size="11.5" text-anchor="middle">Mit-C</text>
<text x="700.30" y="603.90" font-size="11.5" text-anchor="middle">Mit-C</text>
<line x1="564.00" y1="612.80" x2="713.00" y2="612.80" stroke="#000" stroke-width="1.3" />
<text x="649.40" y="625.60" font-size="11.5" text-anchor="middle">Stage 4 d4</text>
</g>
<g id="panelE">
<text x="5.60" y="651.70" font-size="15.0" font-weight="bold">E</text>
<text x="142.20" y="672.80" font-size="12.5" textLength="113.90" lengthAdjust="spacingAndGlyphs">Days during Stage 4</text>
<text x="94.20" y="690.50" font-size="12.5" text-anchor="middle" font-weight="bold">d-1</text>
<text x="133.20" y="690.50" font-size="12.5" text-anchor="middle" font-weight="bold">d0</text>
<text x="205.90" y="690.50" font-size="12.5" text-anchor="middle" font-weight="bold">2</text>
<text x="279.40" y="690.50" font-size="12.5" text-anchor="middle" font-weight="bold">4</text>
<line x1="82.20" y1="704.00" x2="271.00" y2="704.00" stroke="#000" stroke-width="2.7" />
<polygon points="277.80,704.00 268.30,708.50 268.30,699.50" fill="#000"/>
<line x1="94.70" y1="695.60" x2="94.70" y2="712.20" stroke="#000" stroke-width="2.9" />
<line x1="133.20" y1="695.60" x2="133.20" y2="712.20" stroke="#000" stroke-width="2.9" />
<line x1="206.00" y1="695.60" x2="206.00" y2="712.20" stroke="#000" stroke-width="2.9" />
<line x1="279.20" y1="695.60" x2="279.20" y2="712.20" stroke="#000" stroke-width="2.9" />
<polygon points="94.7,716.3 90.5,727.4 98.9,727.4" fill="#000"/>
<polygon points="279.4,716.3 275.2,727.4 283.59999999999997,727.4" fill="#000"/>
<text x="94.80" y="739.60" font-size="12.5" text-anchor="middle" textLength="47.30" lengthAdjust="spacingAndGlyphs">Re-seed</text>
<text x="94.8" y="752.4" font-size="12.5" text-anchor="middle" textLength="91.2" lengthAdjust="spacingAndGlyphs">(4-48 × 10<tspan font-size="8" dy="-4.5">4</tspan><tspan dy="4.5">/cm</tspan><tspan font-size="8" dy="-4.5">2</tspan><tspan dy="4.5">)</tspan></text>
<text x="279.60" y="739.60" font-size="12.5" text-anchor="middle" textLength="47.30" lengthAdjust="spacingAndGlyphs">Analysis</text>
<line x1="62.00" y1="773.30" x2="62.00" y2="926.10" stroke="#000" stroke-width="2.0" />
<line x1="61.00" y1="925.10" x2="205.20" y2="925.10" stroke="#000" stroke-width="2.0" />
<line x1="58.40" y1="925.10" x2="62.00" y2="925.10" stroke="#000" stroke-width="1.6" />
<text x="52.60" y="928.80" font-size="11.4" text-anchor="end">0</text>
<line x1="58.40" y1="904.79" x2="62.00" y2="904.79" stroke="#000" stroke-width="1.6" />
<text x="52.60" y="908.49" font-size="11.4" text-anchor="end">10</text>
<line x1="58.40" y1="884.48" x2="62.00" y2="884.48" stroke="#000" stroke-width="1.6" />
<text x="52.60" y="888.18" font-size="11.4" text-anchor="end">20</text>
<line x1="58.40" y1="864.17" x2="62.00" y2="864.17" stroke="#000" stroke-width="1.6" />
<text x="52.60" y="867.87" font-size="11.4" text-anchor="end">30</text>
<line x1="58.40" y1="843.86" x2="62.00" y2="843.86" stroke="#000" stroke-width="1.6" />
<text x="52.60" y="847.56" font-size="11.4" text-anchor="end">40</text>
<line x1="58.40" y1="823.55" x2="62.00" y2="823.55" stroke="#000" stroke-width="1.6" />
<text x="52.60" y="827.25" font-size="11.4" text-anchor="end">50</text>
<line x1="58.40" y1="803.24" x2="62.00" y2="803.24" stroke="#000" stroke-width="1.6" />
<text x="52.60" y="806.94" font-size="11.4" text-anchor="end">60</text>
<line x1="58.40" y1="782.93" x2="62.00" y2="782.93" stroke="#000" stroke-width="1.6" />
<text x="52.60" y="786.63" font-size="11.4" text-anchor="end">70</text>
<line x1="62.00" y1="925.10" x2="62.00" y2="928.70" stroke="#000" stroke-width="1.6" />
<text x="62.00" y="943.50" font-size="11.4" text-anchor="middle">0</text>
<line x1="90.50" y1="925.10" x2="90.50" y2="928.70" stroke="#000" stroke-width="1.6" />
<text x="90.50" y="943.50" font-size="11.4" text-anchor="middle">10</text>
<line x1="119.00" y1="925.10" x2="119.00" y2="928.70" stroke="#000" stroke-width="1.6" />
<text x="119.00" y="943.50" font-size="11.4" text-anchor="middle">20</text>
<line x1="147.50" y1="925.10" x2="147.50" y2="928.70" stroke="#000" stroke-width="1.6" />
<text x="147.50" y="943.50" font-size="11.4" text-anchor="middle">30</text>
<line x1="176.00" y1="925.10" x2="176.00" y2="928.70" stroke="#000" stroke-width="1.6" />
<text x="176.00" y="943.50" font-size="11.4" text-anchor="middle">40</text>
<line x1="204.50" y1="925.10" x2="204.50" y2="928.70" stroke="#000" stroke-width="1.6" />
<text x="204.50" y="943.50" font-size="11.4" text-anchor="middle">50</text>
<text x="37.2" y="956.3" font-size="12.2" textLength="212" lengthAdjust="spacingAndGlyphs">Cell density on Stage 4 d4 (cells/cm<tspan font-size="8" dy="-4.5">2</tspan><tspan dy="4.5">)</tspan></text>
<text transform="translate(18.9 850.5) rotate(-90)" font-size="12.2" text-anchor="middle">PDX1<tspan font-size="8" dy="-4.5">+</tspan><tspan dy="4.5">NKX6.1</tspan><tspan font-size="8" dy="-4.5">+</tspan><tspan dy="4.5"> cells</tspan></text>
<text transform="translate(34.8 850.2) rotate(-90)" font-size="12.2" text-anchor="middle">(%)</text>
<circle cx="64.8" cy="924.4" r="4.20" fill="#00b050"/>
<circle cx="109.7" cy="828.0" r="4.20" fill="#00b050"/>
<circle cx="148.7" cy="820.8" r="4.20" fill="#00b050"/>
<polygon points="166.5,780.7 162.0,789.0 171.0,789.0" fill="#00b050" stroke-linejoin="miter"/>
<polygon points="134.9,798.1 130.4,806.4 139.4,806.4" fill="#00b050" stroke-linejoin="miter"/>
<polygon points="124.7,819.4 120.2,827.7 129.2,827.7" fill="#00b050" stroke-linejoin="miter"/>
<polygon points="75.6,898.7 71.1,907.0 80.1,907.0" fill="#00b050" stroke-linejoin="miter"/>
<rect x="154.0" y="837.9" width="8.40" height="8.40" fill="#00b050"/>
<rect x="127.1" y="842.7" width="8.40" height="8.40" fill="#00b050"/>
<rect x="84.6" y="890.1" width="8.40" height="8.40" fill="#00b050"/>
<circle cx="145.7" cy="803.6" r="4.20" fill="#0000ff"/>
<circle cx="107.6" cy="814.9" r="4.20" fill="#0000ff"/>
<circle cx="83.5" cy="859.5" r="4.20" fill="#0000ff"/>
<circle cx="73.6" cy="890.6" r="4.20" fill="#0000ff"/>
<polygon points="198.4,778.2 193.9,786.5 202.9,786.5" fill="#0000ff" stroke-linejoin="miter"/>
<polygon points="154.2,789.2 149.7,797.5 158.7,797.5" fill="#0000ff" stroke-linejoin="miter"/>
<polygon points="112.4,807.9 107.9,816.2 116.9,816.2" fill="#0000ff" stroke-linejoin="miter"/>
<polygon points="84.9,839.4 80.4,847.7 89.4,847.7" fill="#0000ff" stroke-linejoin="miter"/>
<polygon points="70.3,863.6 65.8,871.9 74.8,871.9" fill="#0000ff" stroke-linejoin="miter"/>
<rect x="161.1" y="803.8" width="8.40" height="8.40" fill="#0000ff"/>
<rect x="124.4" y="811.5" width="8.40" height="8.40" fill="#0000ff"/>
<rect x="106.1" y="831.3" width="8.40" height="8.40" fill="#0000ff"/>
<rect x="71.0" y="868.6" width="8.40" height="8.40" fill="#0000ff"/>
<rect x="64.7" y="882.5" width="8.40" height="8.40" fill="#0000ff"/>
<circle cx="179.5" cy="896.6" r="4.20" fill="#000"/>
<circle cx="95.7" cy="907.5" r="4.20" fill="#000"/>
<circle cx="116.6" cy="916.4" r="4.20" fill="#000"/>
<circle cx="63.0" cy="919.5" r="4.20" fill="#000"/>
<circle cx="83.8" cy="924.0" r="4.20" fill="#000"/>
<polygon points="141.5,916.7 137.0,925.0 146.0,925.0" fill="#000" stroke-linejoin="miter"/>
<polygon points="107.6,919.5 103.1,927.8 112.1,927.8" fill="#000" stroke-linejoin="miter"/>
<polygon points="181.7,903.1 178.4,909.2 184.9,909.2" fill="#fff" stroke="#000" stroke-width="1.5" stroke-linejoin="miter"/>
<polygon points="101.7,908.0 98.5,914.0 105.0,914.0" fill="#fff" stroke="#000" stroke-width="1.5" stroke-linejoin="miter"/>
<polygon points="108.6,916.5 105.3,922.6 111.8,922.6" fill="#fff" stroke="#000" stroke-width="1.5" stroke-linejoin="miter"/>
<circle cx="152.7" cy="918.0" r="2.85" fill="#fff" stroke="#000" stroke-width="1.5"/>
<circle cx="100.3" cy="923.6" r="2.85" fill="#fff" stroke="#000" stroke-width="1.5"/>
<rect x="148.8" y="921.4" width="5.70" height="5.70" fill="#fff" stroke="#000" stroke-width="1.5"/>
<rect x="151.5" y="920.1" width="5.70" height="5.70" fill="#fff" stroke="#000" stroke-width="1.5"/>
<rect x="111.4" y="921.4" width="5.70" height="5.70" fill="#fff" stroke="#000" stroke-width="1.5"/>
<rect x="88.8" y="920.8" width="5.70" height="5.70" fill="#fff" stroke="#000" stroke-width="1.5"/>
<rect x="73.0" y="920.8" width="5.70" height="5.70" fill="#fff" stroke="#000" stroke-width="1.5"/>
<rect x="62.9" y="915.4" width="5.70" height="5.70" fill="#fff" stroke="#000" stroke-width="1.5"/>
<rect x="63.7" y="918.4" width="5.70" height="5.70" fill="#fff" stroke="#000" stroke-width="1.5"/>
<text x="238.6" y="832.4" font-size="11.5">1<tspan font-size="7.5" dy="-4">st</tspan></text>
<text x="257.3" y="832.4" font-size="11.5">2<tspan font-size="7.5" dy="-4">nd</tspan></text>
<text x="278.6" y="832.4" font-size="11.5">3<tspan font-size="7.5" dy="-4">rd</tspan></text>
<circle cx="242.0" cy="841.1" r="4.60" fill="#000"/>
<polygon points="263.4,836.2 258.8,844.7 268.0,844.7" fill="#000" stroke-linejoin="miter"/>
<rect x="280.1" y="836.9" width="8.40" height="8.40" fill="#000"/>
<text x="294.20" y="844.80" font-size="11.4">Water</text>
<circle cx="242.0" cy="855.4" r="3.92" fill="#fff" stroke="#000" stroke-width="1.35"/>
<polygon points="263.4,851.2 259.5,858.4 267.3,858.4" fill="#fff" stroke="#000" stroke-width="1.35" stroke-linejoin="miter"/>
<rect x="280.8" y="851.9" width="7.05" height="7.05" fill="#fff" stroke="#000" stroke-width="1.35"/>
<text x="294.20" y="859.10" font-size="11.4">DMSO</text>
<circle cx="242.0" cy="869.8" r="4.60" fill="#0000ff"/>
<polygon points="263.4,864.9 258.8,873.4 268.0,873.4" fill="#0000ff" stroke-linejoin="miter"/>
<rect x="280.1" y="865.6" width="8.40" height="8.40" fill="#0000ff"/>
<text x="294.20" y="873.50" font-size="11.4">Y-27632</text>
<circle cx="242.0" cy="884.2" r="4.60" fill="#00cc00"/>
<polygon points="263.4,879.3 258.8,887.8 268.0,887.8" fill="#00cc00" stroke-linejoin="miter"/>
<rect x="280.1" y="880.0" width="8.40" height="8.40" fill="#00cc00"/>
<text x="294.20" y="887.90" font-size="11.4">Blebbistatin</text>
</g>
<g id="panelF">
<text x="372.40" y="651.70" font-size="15.0" font-weight="bold">F</text>
<path d="M510.50 701.40 L508.42 701.58 L505.67 701.80 L502.39 702.08 L498.72 702.38 L494.81 702.71 L490.80 703.04 L486.84 703.38 L483.07 703.71 L479.64 704.02 L476.70 704.30 L474.18 704.55 L471.91 704.78 L469.85 705.00 L467.94 705.21 L466.15 705.41 L464.43 705.62 L462.74 705.84 L461.03 706.07 L459.27 706.32 L457.40 706.60 L455.46 706.89 L453.52 707.20 L451.58 707.51 L449.64 707.83 L447.70 708.17 L445.76 708.52 L443.82 708.89 L441.88 709.27 L439.94 709.68 L438.00 710.10 L436.02 710.56 L433.98 711.05 L431.90 711.58 L429.81 712.12 L427.74 712.67 L425.72 713.23 L423.78 713.78 L421.94 714.32 L420.24 714.83 L418.70 715.30 L417.33 715.73 L416.11 716.12 L415.02 716.48 L414.03 716.82 L413.12 717.16 L412.28 717.50 L411.46 717.87 L410.66 718.26 L409.85 718.70 L409.00 719.20 L408.14 719.75 L407.29 720.34 L406.45 720.97 L405.64 721.63 L404.85 722.31 L404.08 723.01 L403.34 723.72 L402.63 724.44 L401.95 725.17 L401.30 725.90 L400.69 726.62 L400.12 727.33 L399.59 728.04 L399.09 728.76 L398.61 729.49 L398.15 730.25 L397.70 731.05 L397.26 731.88 L396.83 732.76 L396.40 733.70 L395.97 734.69 L395.56 735.72 L395.15 736.78 L394.76 737.88 L394.37 739.03 L394.00 740.20 L393.64 741.42 L393.28 742.68 L392.94 743.97 L392.60 745.30 L392.27 746.69 L391.95 748.17 L391.64 749.70 L391.33 751.27 L391.04 752.88 L390.75 754.49 L390.48 756.09 L390.21 757.67 L389.95 759.22 L389.70 760.70 L389.46 762.08 L389.22 763.36 L389.00 764.57 L388.78 765.75 L388.57 766.93 L388.38 768.16 L388.19 769.48 L388.02 770.91 L387.85 772.51 L387.70 774.30 L387.56 776.19 L387.45 778.08 L387.35 780.01 L387.26 782.03 L387.18 784.20 L387.10 786.55 L387.03 789.14 L386.96 792.02 L386.88 795.22 L386.80 798.80 L386.71 802.72 L386.63 806.92 L386.54 811.38 L386.45 816.12 L386.36 821.12 L386.28 826.38 L386.20 831.90 L386.13 837.68 L386.06 843.71 L386.00 850.00 L385.95 857.00 L385.90 864.98 L385.86 873.63 L385.83 882.64 L385.80 891.70 L385.77 900.51 L385.75 908.75 L385.73 916.12 L385.72 922.30 L385.70 927.00" fill="none" stroke="#000" stroke-width="2.2" stroke-linejoin="round" />
<polygon points="385.70,935.00 381.90,926.50 389.50,926.50" fill="#000"/>
<path d="M511.40 726.00 L509.27 726.05 L506.43 726.11 L503.06 726.19 L499.28 726.27 L495.26 726.36 L491.14 726.46 L487.07 726.56 L483.21 726.67 L479.70 726.79 L476.70 726.90 L474.15 727.02 L471.86 727.14 L469.78 727.28 L467.88 727.41 L466.09 727.56 L464.39 727.70 L462.71 727.85 L461.02 728.00 L459.26 728.15 L457.40 728.30 L455.43 728.45 L453.40 728.59 L451.34 728.74 L449.27 728.89 L447.22 729.04 L445.20 729.19 L443.25 729.35 L441.38 729.53 L439.62 729.71 L438.00 729.90 L436.50 730.10 L435.10 730.30 L433.79 730.50 L432.56 730.70 L431.40 730.92 L430.31 731.15 L429.27 731.40 L428.28 731.67 L427.32 731.97 L426.40 732.30 L425.52 732.65 L424.70 733.03 L423.93 733.42 L423.22 733.84 L422.55 734.27 L421.93 734.73 L421.34 735.21 L420.80 735.72 L420.28 736.25 L419.80 736.80 L419.35 737.42 L418.95 738.12 L418.59 738.89 L418.27 739.68 L417.99 740.48 L417.74 741.26 L417.51 741.99 L417.32 742.64 L417.15 743.19 L417.00 743.60" fill="none" stroke="#000" stroke-width="2.1" stroke-linejoin="round" />
<polygon points="416.00,750.40 413.42,741.45 420.95,742.51" fill="#000"/>
<path d="M511.40 729.40 L510.45 729.48 L509.18 729.58 L507.67 729.70 L505.98 729.84 L504.18 729.98 L502.34 730.14 L500.54 730.30 L498.83 730.47 L497.30 730.63 L496.00 730.80 L494.91 730.96 L493.92 731.12 L493.03 731.27 L492.23 731.43 L491.49 731.59 L490.80 731.77 L490.15 731.97 L489.53 732.18 L488.92 732.43 L488.30 732.70 L487.69 733.00 L487.11 733.30 L486.57 733.63 L486.05 733.97 L485.56 734.33 L485.10 734.72 L484.66 735.14 L484.25 735.59 L483.87 736.08 L483.50 736.60 L483.16 737.21 L482.84 737.91 L482.55 738.69 L482.29 739.51 L482.05 740.34 L481.83 741.16 L481.64 741.92 L481.47 742.60 L481.33 743.17 L481.20 743.60" fill="none" stroke="#000" stroke-width="2.1" stroke-linejoin="round" />
<polygon points="480.60,750.60 477.86,741.70 485.41,742.63" fill="#000"/>
<rect x="468.20" y="649.80" width="131.00" height="23.00" fill="#fff" stroke="#000" stroke-width="1.3"/>
<text x="533.60" y="664.90" font-size="11.4" text-anchor="middle">Aggregation</text>
<line x1="533.50" y1="679.50" x2="533.50" y2="689.70" stroke="#000" stroke-width="1.9" />
<line x1="528.90" y1="689.70" x2="538.20" y2="689.70" stroke="#000" stroke-width="1.9" />
<text x="533.60" y="705.00" font-size="11.4" text-anchor="middle">Rho</text>
<line x1="533.50" y1="707.10" x2="533.50" y2="712.00" stroke="#000" stroke-width="1.9" />
<polygon points="533.50,717.90 529.90,710.40 537.10,710.40" fill="#000"/>
<text x="533.70" y="729.00" font-size="11.4" text-anchor="middle">ROCK</text>
<line x1="533.50" y1="733.40" x2="533.50" y2="742.80" stroke="#000" stroke-width="1.9" />
<line x1="528.90" y1="742.80" x2="538.20" y2="742.80" stroke="#000" stroke-width="1.9" />
<text x="500.30" y="755.00" font-size="11.4">Phosphatase</text>
<line x1="408.30" y1="755.20" x2="408.30" y2="762.50" stroke="#000" stroke-width="2.0" />
<polygon points="408.30,768.50 404.60,761.00 412.00,761.00" fill="#000"/>
<line x1="423.30" y1="755.20" x2="423.30" y2="762.50" stroke="#000" stroke-width="2.0" />
<polygon points="423.30,768.50 419.60,761.00 427.00,761.00" fill="#000"/>
<text x="434.00" y="777.30" font-size="11.4">pMLC2</text>
<line x1="497.30" y1="759.50" x2="563.00" y2="759.50" stroke="#000" stroke-width="2.0" />
<polygon points="569.90,759.50 561.40,763.30 561.40,755.70" fill="#000"/>
<line x1="505.00" y1="782.80" x2="569.70" y2="782.80" stroke="#000" stroke-width="2.0" />
<polygon points="497.50,782.80 506.00,779.00 506.00,786.60" fill="#000"/>
<text x="533.40" y="796.60" font-size="11.4" text-anchor="middle">MLCK</text>
<path d="M478.10 769.50 L477.71 769.91 L477.37 770.42 L477.34 771.02 L477.80 771.70 L478.51 772.43 L478.89 773.21 L478.55 774.02 L477.76 774.84 L477.30 775.67 L477.61 776.48 L478.35 777.26 L478.86 778.00 L478.76 778.74 L478.08 779.53 L477.42 780.35 L477.44 781.19 L478.15 782.01 L478.84 782.82 L478.87 783.61 L478.30 784.36 L477.67 785.06 L477.39 785.67 L477.51 786.19 L477.82 786.60" fill="none" stroke="#25258a" stroke-width="1.2" stroke-linejoin="round"/>
<path d="M478.10 769.50 L478.49 769.91 L478.83 770.42 L478.85 771.03 L478.39 771.70 L477.68 772.43 L477.29 773.21 L477.64 774.02 L478.43 774.84 L478.89 775.67 L478.58 776.48 L477.84 777.26 L477.34 778.00 L477.45 778.75 L478.14 779.53 L478.82 780.34 L478.82 781.17 L478.13 782.01 L477.46 782.84 L477.45 783.63 L478.04 784.37 L478.69 785.05 L478.98 785.65 L478.88 786.18 L478.58 786.60" fill="none" stroke="#25258a" stroke-width="1.2" stroke-linejoin="round"/>
<path d="M474.5 791.6 L478.2 786.2 L483.0 791.6" fill="none" stroke="#25258a" stroke-width="1.2" />
<path d="M474.2 758.2 L477.8 762.4 L481.9 758.5" fill="none" stroke="#000" stroke-width="2.9" stroke-linecap="round" stroke-linejoin="round"/>
<ellipse cx="472.1" cy="754.9" rx="2.1" ry="3.2" transform="rotate(-28 472.1 754.9)" fill="#d8d8f4" stroke="#000" stroke-width="1.35"/>
<ellipse cx="483.8" cy="755.1" rx="2.1" ry="3.2" transform="rotate(28 483.8 755.1)" fill="#d8d8f4" stroke="#000" stroke-width="1.35"/>
<circle cx="470.3" cy="761.4" r="3.7" fill="#ffff00" stroke="#000" stroke-width="1.1"/>
<circle cx="476.1" cy="767.4" r="3.7" fill="#ffff00" stroke="#000" stroke-width="1.1"/>
<path d="M590.80 764.30 L590.45 764.40 L590.04 764.54 L589.65 764.76 L589.39 765.10 L589.32 765.58 L589.43 766.21 L589.63 766.90 L589.76 767.56 L589.66 768.10 L589.28 768.48 L588.70 768.73 L588.05 768.91 L587.47 769.10 L587.03 769.36 L586.80 769.75 L586.78 770.28 L586.89 770.91 L587.04 771.55 L587.12 772.13 L587.02 772.59 L586.69 772.93 L586.15 773.19 L585.51 773.46 L584.91 773.81 L584.54 774.28 L584.51 774.88 L584.82 775.57 L585.28 776.30 L585.58 776.97 L585.48 777.56 L584.98 778.09 L584.32 778.63 L583.81 779.20 L583.66 779.80 L583.89 780.37 L584.38 780.84 L584.95 781.18 L585.46 781.45 L585.80 781.73 L585.94 782.11 L585.93 782.61 L585.84 783.21 L585.77 783.86 L585.83 784.43 L586.06 784.86 L586.46 785.11 L587.00 785.20 L587.60 785.20 L588.20 785.21 L588.72 785.29 L589.11 785.50 L589.34 785.86 L589.44 786.38 L589.51 786.97 L589.63 787.57 L589.87 788.07 L590.26 788.40 L590.76 788.49 L591.30 788.34 L591.80 787.99 L592.22 787.54 L592.60 787.13 L593.00 786.91 L593.52 786.96 L594.17 787.24 L594.90 787.56 L595.62 787.70 L596.18 787.47 L596.56 786.88 L596.80 786.09 L597.01 785.37 L597.33 784.89 L597.85 784.70 L598.60 784.75 L599.46 784.86 L600.23 784.78 L600.71 784.33 L600.88 783.56 L600.88 782.69 L600.93 781.96 L601.19 781.51 L601.67 781.27 L602.28 781.12 L602.87 780.90 L603.32 780.54 L603.55 780.05 L603.54 779.55 L603.31 779.12 L602.90 778.81 L602.38 778.58 L601.86 778.41 L601.39 778.20 L601.06 777.91 L600.90 777.52 L600.91 777.06 L601.08 776.58 L601.35 776.15 L601.63 775.76 L601.86 775.40 L601.99 775.05 L601.99 774.72 L601.85 774.39 L601.59 774.07 L601.23 773.77 L600.82 773.52 L600.42 773.29 L600.08 773.09 L599.84 772.87 L599.72 772.58 L599.71 772.17 L599.77 771.64 L599.85 771.04 L599.87 770.45 L599.76 769.96 L599.48 769.61 L599.03 769.43 L598.49 769.35 L597.91 769.30 L597.39 769.20 L596.97 769.02 L596.69 768.75 L596.55 768.41 L596.54 768.01 L596.63 767.58 L596.77 767.15 L596.92 766.74 L597.04 766.37 L597.10 766.05 L597.09 765.79 L597.02 765.57 L596.92 765.40 L596.80 765.27" fill="none" stroke="#25258a" stroke-width="1.3" stroke-linejoin="round"/>
<path d="M590.80 764.30 L590.90 764.65 L591.00 765.07 L591.02 765.52 L590.87 765.92 L590.50 766.24 L589.91 766.47 L589.21 766.67 L588.58 766.91 L588.17 767.28 L588.05 767.81 L588.16 768.44 L588.35 769.09 L588.48 769.70 L588.44 770.23 L588.17 770.62 L587.70 770.87 L587.09 771.03 L586.44 771.19 L585.88 771.42 L585.52 771.79 L585.41 772.31 L585.54 772.93 L585.82 773.58 L586.09 774.19 L586.16 774.74 L585.89 775.24 L585.29 775.69 L584.57 776.15 L584.02 776.68 L583.91 777.31 L584.23 778.00 L584.77 778.66 L585.21 779.25 L585.35 779.77 L585.17 780.25 L584.82 780.76 L584.47 781.33 L584.26 781.93 L584.30 782.48 L584.59 782.91 L585.10 783.17 L585.73 783.30 L586.36 783.36 L586.90 783.46 L587.29 783.69 L587.51 784.07 L587.59 784.60 L587.60 785.20 L587.61 785.80 L587.70 786.33 L587.94 786.73 L588.35 786.96 L588.90 787.02 L589.52 786.97 L590.09 786.86 L590.57 786.79 L590.93 786.84 L591.20 787.03 L591.47 787.37 L591.80 787.81 L592.27 788.24 L592.82 788.54 L593.40 788.56 L593.90 788.23 L594.30 787.61 L594.62 786.88 L594.97 786.28 L595.46 786.01 L596.12 786.06 L596.90 786.28 L597.66 786.42 L598.27 786.31 L598.67 785.87 L598.88 785.13 L598.99 784.27 L599.20 783.56 L599.67 783.17 L600.42 783.09 L601.29 783.09 L602.05 782.95 L602.51 782.54 L602.65 781.93 L602.55 781.26 L602.33 780.70 L602.10 780.31 L601.93 780.05 L601.88 779.81 L601.95 779.51 L602.11 779.11 L602.32 778.62 L602.49 778.08 L602.59 777.58 L602.56 777.17 L602.39 776.86 L602.10 776.64 L601.72 776.42 L601.30 776.16 L600.91 775.87 L600.58 775.56 L600.38 775.23 L600.31 774.90 L600.37 774.56 L600.55 774.22 L600.80 773.85 L601.07 773.46 L601.29 773.02 L601.40 772.57 L601.36 772.13 L601.12 771.76 L600.71 771.49 L600.17 771.35 L599.56 771.28 L598.99 771.19 L598.53 771.02 L598.23 770.70 L598.11 770.23 L598.11 769.67 L598.17 769.10 L598.22 768.59 L598.23 768.18 L598.14 767.87 L597.94 767.62 L597.63 767.43 L597.24 767.27 L596.82 767.12 L596.40 766.98 L596.05 766.81 L595.77 766.64 L595.58 766.45 L595.47 766.26 L595.42 766.09 L595.40 765.93" fill="none" stroke="#25258a" stroke-width="1.3" stroke-linejoin="round"/>
<path d="M596.0 766.0 L601.4 761.0 M597.0 765.2 L605.3 764.3" fill="none" stroke="#25258a" stroke-width="1.25" />
<path d="M586.6 759.2 L590.8 763.9 L595.2 759.2" fill="none" stroke="#000" stroke-width="3.0" stroke-linecap="round" stroke-linejoin="round"/>
<ellipse cx="585.0" cy="756.0" rx="2.1" ry="3.2" transform="rotate(-30 585.0 756.0)" fill="#d8d8f4" stroke="#000" stroke-width="1.35"/>
<ellipse cx="596.9" cy="756.0" rx="2.1" ry="3.2" transform="rotate(30 596.9 756.0)" fill="#d8d8f4" stroke="#000" stroke-width="1.35"/>
<line x1="566.80" y1="725.10" x2="599.00" y2="725.10" stroke="#ff0000" stroke-width="2.0" />
<line x1="566.80" y1="720.00" x2="566.80" y2="730.30" stroke="#ff0000" stroke-width="2.0" />
<text x="606.30" y="720.00" font-size="11.4" fill="#ff0000">ROCK</text>
<text x="606.30" y="731.20" font-size="11.4" fill="#ff0000">-inhibitor</text>
<line x1="499.00" y1="770.80" x2="618.40" y2="770.80" stroke="#ff0000" stroke-width="2.0" />
<line x1="499.00" y1="766.20" x2="499.00" y2="775.40" stroke="#ff0000" stroke-width="2.1" />
<text x="628.20" y="766.60" font-size="11.4" fill="#ff0000">NM II</text>
<text x="628.20" y="777.80" font-size="11.4" fill="#ff0000">-inhibitor</text>
<text x="606.80" y="789.90" font-size="11.4">NM II</text>
<rect x="440.40" y="795.30" width="55.00" height="22.10" fill="#fff" stroke="#000" stroke-width="1.3"/>
<text x="468.00" y="809.90" font-size="11.4" text-anchor="middle">Active</text>
<rect x="582.20" y="795.90" width="65.30" height="22.10" fill="#fff" stroke="#000" stroke-width="1.3"/>
<text x="615.00" y="810.20" font-size="11.4" text-anchor="middle">Inactive</text>
<path d="M604.3 662.4 C640 663 670 666 685.3 672.6 C698 678.5 703.5 685 706 695 C709.5 712 712 745 712.4 786 V856" fill="none" stroke="#000" stroke-width="2.1" stroke-dasharray="2.0 1.9"/>
<path d="M655.0 725.1 C668 725 679 726.5 685.3 729.2 C691 732 694.5 738 696.1 747.4 C697.5 757 698.4 775 698.4 797 V856" fill="none" stroke="#000" stroke-width="2.1" stroke-dasharray="2.0 1.9"/>
<path d="M672.2 768.3 C676 768.3 680 769.5 682.5 772.5 C684.5 775.5 685.3 780 685.5 786 C685.8 795 686 803 686 808.5 V856" fill="none" stroke="#000" stroke-width="2.1" stroke-dasharray="2.0 1.9"/>
<polygon points="686.00,862.00 682.80,855.00 689.20,855.00" fill="#000"/>
<polygon points="698.40,862.00 695.20,855.00 701.60,855.00" fill="#000"/>
<polygon points="712.40,862.00 709.20,855.00 715.60,855.00" fill="#000"/>
<text x="674.00" y="684.50" font-size="11.4" text-anchor="middle">Other</text>
<text x="674.00" y="696.50" font-size="11.4" text-anchor="middle">pathways</text>
<rect x="629.80" y="862.40" width="91.70" height="48.00" fill="#fff" stroke="#000" stroke-width="1.3"/>
<text x="675.50" y="876.90" font-size="11.3" text-anchor="middle" textLength="69.90" lengthAdjust="spacingAndGlyphs">Differentiation</text>
<text x="675.50" y="889.60" font-size="11.3" text-anchor="middle">&amp;</text>
<text x="675.60" y="902.80" font-size="11.3" text-anchor="middle">Proliferation</text>
<line x1="502.50" y1="822.00" x2="616.30" y2="884.00" stroke="#000" stroke-width="2.0" />
<line x1="613.10" y1="889.30" x2="619.30" y2="879.40" stroke="#000" stroke-width="2.0" />
<line x1="462.00" y1="821.40" x2="462.00" y2="826.50" stroke="#000" stroke-width="2.0" />
<polygon points="462.00,832.50 458.30,825.00 465.70,825.00" fill="#000"/>
<path d="M400.8 778.4 L402.6 776.8 M406.4 807.0 L407.9 805.5 M412.0 804.8 L413.3 803.7 M415.2 805.8 L416.7 804.5" fill="none" stroke="#0a7a0a" stroke-width="1.4" />
<line x1="396.50" y1="814.50" x2="431.40" y2="823.20" stroke="#0a7a0a" stroke-width="2.3" />
<line x1="396.5" y1="814.5" x2="431.4" y2="823.2" stroke="#7fbf7f" stroke-width="0.7" stroke-dasharray="1.6 2.2"/>
<text x="397.30" y="833.10" font-size="11.4">F-actin</text>
<line x1="414.60" y1="842.50" x2="414.60" y2="853.00" stroke="#000" stroke-width="2.0" />
<polygon points="414.60,859.60 410.90,852.10 418.30,852.10" fill="#000"/>
<line x1="422.50" y1="842.90" x2="436.00" y2="855.60" stroke="#000" stroke-width="2.0" />
<polygon points="440.80,860.10 432.80,857.66 437.87,852.27" fill="#000"/>
<path d="M393.5 869.8 C400 866.5 407 864.4 413.8 864.4 C421 864.6 428 869 432.7 874.7 M394.0 874.2 C399 870 406 866 412.5 864.6 M415 864.6 C421 866 426.5 872 429.4 878 M402.2 863.9 L430.7 867.7" fill="none" stroke="#0a7a0a" stroke-width="1.4" />
<text x="389.80" y="886.60" font-size="11.4">Actin fiber</text>
<line x1="414.60" y1="900.20" x2="414.60" y2="928.00" stroke="#000" stroke-width="2.0" />
<polygon points="414.60,935.00 410.80,926.50 418.40,926.50" fill="#000"/>
<line x1="447.70" y1="846.50" x2="447.70" y2="906.90" stroke="#0a7a0a" stroke-width="2.3" />
<line x1="447.7" y1="846.5" x2="447.7" y2="906.9" stroke="#6fb56f" stroke-width="0.8" stroke-dasharray="1.4 2.0"/>
<line x1="477.60" y1="834.30" x2="477.60" y2="894.90" stroke="#0a7a0a" stroke-width="2.3" />
<line x1="477.6" y1="834.3" x2="477.6" y2="894.9" stroke="#6fb56f" stroke-width="0.8" stroke-dasharray="1.4 2.0"/>
<path d="M462.60 854.60 L461.82 855.51 L462.12 856.61 L463.46 857.85 L463.06 859.32 L461.93 860.94 L463.40 862.57 L463.23 864.32 L462.11 866.12 L463.75 867.89 L462.91 869.66 L462.25 871.35 L463.72 873.04 L462.74 874.64 L461.99 876.35 L463.39 878.34 L461.71 880.08 L462.07 882.03 L462.51 883.98 L460.76 885.59 L461.85 887.46 L461.79 889.04 L460.26 890.27 L460.45 891.50 L461.35 892.56" fill="none" stroke="#25258a" stroke-width="1.2" stroke-linejoin="round"/>
<path d="M462.60 854.60 L463.43 855.46 L463.20 856.57 L461.96 857.91 L462.47 859.34 L463.72 860.87 L462.37 862.60 L462.63 864.33 L463.82 866.09 L462.23 867.90 L463.06 869.66 L463.67 871.39 L462.08 872.96 L462.87 874.65 L463.34 876.47 L461.60 878.17 L462.89 880.20 L462.11 882.04 L461.22 883.82 L462.54 885.81 L461.01 887.35 L460.68 888.90 L461.85 890.47 L461.37 891.61 L460.25 892.44" fill="none" stroke="#25258a" stroke-width="1.2" stroke-linejoin="round"/>
<path d="M462.00 855.50 L461.52 856.35 L462.22 857.39 L462.32 858.61 L461.67 860.01 L462.65 861.49 L461.70 863.11 L462.72 864.74 L461.77 866.45 L462.78 868.14 L461.82 869.83 L462.78 871.45 L461.90 873.00 L462.59 874.57 L461.94 876.23 L462.51 878.00 L461.73 879.76 L462.48 881.59 L461.50 883.32 L462.36 885.07 L461.38 886.65 L462.06 888.17 L461.70 889.48 L461.20 890.58 L461.88 891.51" fill="none" stroke="#25258a" stroke-width="0.9" stroke-linejoin="round"/>
<path d="M462.00 855.50 L462.52 856.33 L461.87 857.40 L461.83 858.63 L462.56 859.99 L461.66 861.51 L462.69 863.08 L461.74 864.76 L462.75 866.44 L461.80 868.15 L462.79 869.82 L461.84 871.45 L462.70 873.00 L461.96 874.56 L462.53 876.25 L461.85 877.98 L462.50 879.79 L461.60 881.56 L462.44 883.36 L461.42 885.03 L462.26 886.69 L461.44 888.14 L461.68 889.48 L462.08 890.62 L461.32 891.49" fill="none" stroke="#25258a" stroke-width="0.9" stroke-linejoin="round"/>
<path d="M454.4 874.5 L467.4 864.4 M462.8 879.6 L470.2 874.5 M462.6 877 L466.8 882.6" fill="none" stroke="#25258a" stroke-width="1.0" />
<path d="M470.0 841.4 L464.8 846.8" fill="none" stroke="#000" stroke-width="2.4" stroke-linecap="round"/>
<path d="M451.8 905.8 L456.4 901.2" fill="none" stroke="#000" stroke-width="2.4" stroke-linecap="round"/>
<ellipse cx="459.5" cy="838.0" rx="2.1" ry="3.2" transform="rotate(-8 459.5 838.0)" fill="#d8d8f4" stroke="#000" stroke-width="1.35"/>
<ellipse cx="471.2" cy="839.7" rx="2.1" ry="3.2" transform="rotate(42 471.2 839.7)" fill="#d8d8f4" stroke="#000" stroke-width="1.35"/>
<ellipse cx="451.8" cy="849.9" rx="2.1" ry="3.2" transform="rotate(-38 451.8 849.9)" fill="#d8d8f4" stroke="#000" stroke-width="1.35"/>
<ellipse cx="463.3" cy="847.8" rx="2.1" ry="3.2" transform="rotate(18 463.3 847.8)" fill="#d8d8f4" stroke="#000" stroke-width="1.35"/>
<circle cx="459.3" cy="850.9" r="3.4" fill="#ffff00" stroke="#000" stroke-width="1.1"/>
<circle cx="458.1" cy="844.2" r="3.8" fill="#ffff00" stroke="#000" stroke-width="1.1"/>
<circle cx="452.6" cy="856.7" r="3.7" fill="#ffff00" stroke="#000" stroke-width="1.1"/>
<circle cx="457.2" cy="861.8" r="3.7" fill="#ffff00" stroke="#000" stroke-width="1.1"/>
<ellipse cx="459.3" cy="901.1" rx="2.1" ry="3.2" transform="rotate(20 459.3 901.1)" fill="#d8d8f4" stroke="#000" stroke-width="1.35"/>
<ellipse cx="470.6" cy="900.6" rx="2.1" ry="3.2" transform="rotate(-35 470.6 900.6)" fill="#d8d8f4" stroke="#000" stroke-width="1.35"/>
<ellipse cx="450.7" cy="906.9" rx="2.1" ry="3.2" transform="rotate(55 450.7 906.9)" fill="#d8d8f4" stroke="#000" stroke-width="1.35"/>
<ellipse cx="462.0" cy="909.7" rx="2.1" ry="3.2" transform="rotate(-10 462.0 909.7)" fill="#d8d8f4" stroke="#000" stroke-width="1.35"/>
<circle cx="462.8" cy="897.5" r="3.4" fill="#ffff00" stroke="#000" stroke-width="1.1"/>
<circle cx="467.1" cy="888.2" r="3.7" fill="#ffff00" stroke="#000" stroke-width="1.1"/>
<circle cx="470.9" cy="894.3" r="3.7" fill="#ffff00" stroke="#000" stroke-width="1.1"/>
<circle cx="464.2" cy="904.2" r="3.7" fill="#ffff00" stroke="#000" stroke-width="1.1"/>
<text x="433.40" y="921.60" font-size="11.4">Actomyosin</text>
<line x1="465.80" y1="925.60" x2="465.80" y2="929.00" stroke="#000" stroke-width="2.0" />
<polygon points="465.80,935.00 462.10,927.50 469.50,927.50" fill="#000"/>
<rect x="378.60" y="936.20" width="119.60" height="34.50" fill="#fff" stroke="#000" stroke-width="1.3"/>
<text x="438.60" y="950.70" font-size="11.4" text-anchor="middle">Maintenance of</text>
<text x="438.20" y="963.70" font-size="11.4" text-anchor="middle">cellular morphology</text>
<defs><pattern id="chk" x="702.37" y="917.01" width="3.87" height="3.87" patternUnits="userSpaceOnUse"><rect width="3.87" height="3.87" fill="#08e408"/><rect width="1.935" height="1.935" fill="#ffff00"/><rect x="1.935" y="1.935" width="1.935" height="1.935" fill="#ffff00"/></pattern></defs>
<circle cx="644.7" cy="925.4" r="8.9" fill="#ffff00" stroke="#35c81e" stroke-width="1.4"/>
<circle cx="704.3" cy="925.5" r="9.0" fill="url(#chk)" stroke="#2ad82a" stroke-width="1.3"/>
<line x1="660.60" y1="925.30" x2="683.00" y2="925.30" stroke="#000" stroke-width="2.1" />
<polygon points="689.00,925.30 681.50,929.10 681.50,921.50" fill="#000"/>
<text x="644.40" y="949.40" font-size="11.4" text-anchor="middle">PDX1</text>
<text x="704.20" y="949.40" font-size="11.4" text-anchor="middle">PDX1</text>
<text x="704.60" y="963.30" font-size="11.4" text-anchor="middle">NKX6.1</text>
</g>
</svg>
</body></html>
